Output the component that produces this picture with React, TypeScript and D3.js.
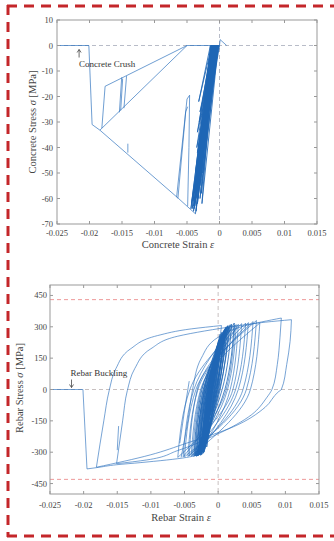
import React from "react";
import * as d3 from "d3";

type Pt = [number, number];

// ---------- ticks ----------
const strainTicks = [-0.025, -0.02, -0.015, -0.01, -0.005, 0, 0.005, 0.01, 0.015];
const strainTickLabels = ["-0.025", "-0.02", "-0.015", "-0.01", "-0.005", "0", "0.005", "0.01", "0.015"];
const concreteStressTicks = [10, 0, -10, -20, -30, -40, -50, -60, -70];
const rebarStressTicks = [450, 300, 150, 0, -150, -300, -450];
const rebarYieldLimits = [430, -430];

// ---------- concrete data (strain, stress MPa) ----------
const concreteBundle: Pt[] = [
  [0.0, 0], [-0.0026, -40], [-0.0004, 0], [-0.003, -26], [-0.001, 0], [-0.0033, -45], [-0.0006, 0],
  [-0.0036, -55], [-0.0008, 0], [-0.0028, -58], [-0.0003, 0], [-0.0034, -34], [-0.0012, 0],
  [-0.0038, -60], [-0.0007, 0], [-0.0031, -50], [-0.0005, 0], [-0.004, -63], [-0.0009, 0],
  [-0.0027, -62], [-0.0002, 0], [-0.0035, -40], [-0.0011, 0], [-0.0042, -64], [-0.001, 0],
  [-0.0033, -60], [-0.0006, 0], [-0.0037, -50], [-0.0013, 0], [-0.0029, -45], [-0.0004, 0],
  [-0.0044, -64], [-0.0012, 0], [-0.0032, -22], [-0.0014, 0], [-0.0036, -65], [-0.0008, 0],
  [-0.0025, -35], [-0.0001, 0], [-0.0039, -58], [-0.001, 0], [-0.003, -55], [-0.0005, 0],
  [-0.0034, -62], [-0.0007, 0], [-0.0029, -52], [-0.0003, 0], [-0.0041, -61], [-0.0011, 0],
  [-0.0032, -48], [-0.0006, 0], [-0.0038, -63], [-0.0009, 0], [-0.0027, -38], [-0.0002, 0],
  [-0.0035, -58], [-0.0012, 0], [-0.0031, -30], [-0.0008, 0], [-0.0043, -62], [-0.0013, 0],
  [-0.0028, -47], [-0.0004, 0], [-0.0036, -60], [-0.0005, 0], [-0.0033, -53], [-0.001, 0],
  [-0.0039, -64], [-0.0006, 0], [-0.0026, -50], [-0.0002, 0], [-0.0034, -42], [-0.0009, 0],
  [-0.0040, -65], [-0.0011, 0], [-0.0030, -60], [-0.0003, 0], [-0.0037, -57], [-0.0007, 0],
  [-0.0037, -66],
];
const concreteEnvelope: Pt[] = [[-0.0037, -66], [-0.0063, -60], [-0.0184, -33.2], [-0.0196, -31], [-0.0201, 0], [-0.025, 0]];
const concreteSmallLoopA: Pt[] = [[-0.0066, -59.5], [-0.005, -21], [-0.0046, -19.5], [-0.0047, -40], [-0.0049, -63]];
const concreteSmallLoopB: Pt[] = [[-0.0064, -60], [-0.0052, -26], [-0.0049, -24]];
const concreteUnload: Pt[] = [[-0.0184, -33.2], [-0.005, 0], [0.0, 0], [0.0001, 2.3], [0.0011, 0]];
const concreteUpper: Pt[] = [[-0.005, 0], [-0.0176, -16], [-0.0181, -32.4]];
const concreteDrop1: Pt[] = [[-0.01505, -12.5], [-0.0154, -26.2]];
const concreteDrop2: Pt[] = [[-0.0149, -13], [-0.0152, -25.5]];
const concreteDrop3: Pt[] = [[-0.0143, -12], [-0.0147, -24.6]];
const concreteTick: Pt[] = [[-0.0141, -38.5], [-0.0141, -42]];
const concreteCrushAt: Pt = [-0.0216, 0];

// ---------- rebar data (strain, stress MPa), branches listed low -> high stress ----------
const rebarBuckle: Pt[] = [[-0.025, 0], [-0.0201, 0], [-0.0195, -380]];
const rebarFinalDown: Pt[] = [
  [-0.0195, -380], [-0.0181, -374], [-0.0151, -360], [-0.0116, -350], [-0.0047, -325],
  [-0.0025, -305], [-0.0014, -200], [-0.0006, 0], [0.0005, 306],
];
const rebarUpA: Pt[] = [
  [-0.0181, -372], [-0.017, -150], [-0.0162, -5], [-0.0152, 100], [-0.013, 195],
  [-0.009, 258], [-0.004, 290], [0.0005, 306],
];
const rebarUpB: Pt[] = [
  [-0.0151, -355], [-0.0142, -150], [-0.0135, -5], [-0.0124, 100], [-0.01, 195],
  [-0.006, 255], [-0.002, 280], [0.003, 305], [0.007, 322], [0.0109, 334],
];
const rebarUpC: Pt[] = [
  [-0.0055, -325], [-0.0045, -150], [-0.0038, 0], [-0.0025, 150], [0.0, 250], [0.004, 305], [0.0094, 342],
];
const rebarDownA: Pt[] = [
  [-0.0151, -355], [-0.0106, -337], [-0.006, -292], [-0.0002, -215], [0.005, -120],
  [0.0072, -40], [0.008, 0], [0.0088, 120], [0.0092, 250], [0.0094, 342],
];
const rebarDownB: Pt[] = [
  [-0.0181, -372], [-0.0101, -313], [-0.0047, -257], [0.0023, -178], [0.007, -85],
  [0.009, -10], [0.0094, 0], [0.0102, 120], [0.0107, 230], [0.0109, 334],
];
// [bottom strain, bottom stress, up zero-crossing, top strain, top stress, down zero-crossing]
const rebarMediumLoops: number[][] = [
  [-0.005, -322, -0.0033, 0.0057, 330, 0.0042],
  [-0.0045, -320, -0.003, 0.0052, 325, 0.0037],
  [-0.004, -318, -0.0026, 0.0062, 318, 0.0048],
  [-0.0035, -315, -0.0022, 0.0045, 320, 0.003],
  [-0.006, -325, -0.0042, 0.0035, 315, 0.0022],
  [-0.003, -315, -0.0018, 0.003, 312, 0.0018],
  [-0.0052, -322, -0.0036, 0.0025, 310, 0.0012],
  [-0.0043, -318, -0.0031, 0.0041, 318, 0.0026],
  [-0.0038, -316, -0.0025, 0.0027, 310, 0.0014],
];
const rebarInnerLoops: number[][] = [
  [-0.003, -318, -0.0016, 0.0012, 300, -0.0004],
  [-0.0027, -312, -0.0014, 0.001, 290, -0.0003],
  [-0.0025, -305, -0.0013, 0.0008, 280, -0.0005],
  [-0.0023, -300, -0.0012, 0.0006, 270, -0.0006],
  [-0.0022, -295, -0.0013, 0.0004, 250, -0.0008],
  [-0.0028, -310, -0.0017, 0.0002, 240, -0.001],
  [-0.002, -285, -0.0011, 0.0009, 275, -0.0002],
  [-0.0026, -315, -0.0015, 0.0015, 305, 0.0],
  [-0.0032, -320, -0.0019, 0.0018, 310, 0.0002],
  [-0.0024, -290, -0.0016, -0.0002, 200, -0.0011],
  [-0.0018, -260, -0.001, 0.0003, 220, -0.0005],
  [-0.0021, -300, -0.0009, 0.0011, 285, 0.0001],
  [-0.0029, -305, -0.002, 0.0005, 260, -0.0009],
  [-0.0034, -318, -0.0022, 0.002, 312, 0.0006],
  [-0.0019, -270, -0.0012, 0.0, 180, -0.0008],
  [-0.0016, -240, -0.0008, 0.0007, 230, -0.0001],
  [-0.0027, -300, -0.0018, -0.0004, 150, -0.0013],
  [-0.0036, -320, -0.0024, 0.0024, 318, 0.001],
  [-0.0025, -312, -0.0015, 0.0003, 265, -0.0007],
  [-0.0022, -305, -0.0011, 0.0013, 295, -0.0002],
  [-0.0029, -315, -0.0018, 0.0009, 285, -0.0006],
  [-0.0021, -290, -0.0014, -0.0001, 210, -0.0009],
  [-0.0026, -308, -0.0012, 0.0016, 300, 0.0003],
  [-0.0031, -318, -0.0021, 0.0006, 275, -0.0008],
  [-0.0017, -275, -0.0009, 0.0005, 245, -0.0004],
  [-0.0024, -310, -0.0014, 0.0001, 235, -0.001],
  [-0.0033, -318, -0.002, 0.0014, 305, -0.0001],
  [-0.0023, -295, -0.0015, 0.0, 215, -0.0009],
  [-0.002, -280, -0.0013, -0.0003, 170, -0.001],
  [-0.0028, -312, -0.0016, 0.0011, 295, -0.0003],
];
const rebarSpike: Pt[] = [[-0.0057, -257], [-0.005, -100], [-0.0043, 40]];
const rebarSegment: Pt[] = [[-0.015, -290], [-0.0148, -175]];
const rebarBucklingAt: Pt = [-0.0218, 0];

const BLUE = "#2a6fbd";
const SERIF = "'Liberation Serif', 'Times New Roman', serif";
const TXT = "#444";

function loopBranches(l: number[]): Pt[][] {
  const [xb, yb, xu, xt, yt, xd] = l;
  return [
    [[xb, yb], [xu, 0], [xt, yt]],
    [[xb, yb], [xd, 0], [xt, yt]],
  ];
}

function Frame({ x, y, left, right, top, bottom, yTicks }: any) {
  return (
    <g>
      <rect x={left} y={top} width={right - left} height={bottom - top} fill="none" stroke="#999" strokeWidth={1} />
      {strainTicks.map((t, i) => (
        <g key={"xt" + i}>
          <line x1={x(t)} x2={x(t)} y1={bottom} y2={bottom - 3} stroke="#999" />
          <line x1={x(t)} x2={x(t)} y1={top} y2={top + 3} stroke="#999" />
        </g>
      ))}
      {yTicks.map((t: number, i: number) => (
        <g key={"yt" + i}>
          <line x1={left} x2={left + 3} y1={y(t)} y2={y(t)} stroke="#999" />
          <line x1={right} x2={right - 3} y1={y(t)} y2={y(t)} stroke="#999" />
        </g>
      ))}
    </g>
  );
}

export default function App() {
  const c = { left: 57, right: 317, top: 20, bottom: 224 };
  const cx = d3.scaleLinear().domain([-0.025, 0.015]).range([c.left, c.right]);
  const cy = d3.scaleLinear().domain([-70, 10]).range([c.bottom, c.top]);
  const cLine = d3.line<Pt>().x((d) => cx(d[0])).y((d) => cy(d[1]));

  const r = { left: 50, right: 319, top: 285, bottom: 494 };
  const rx = d3.scaleLinear().domain([-0.025, 0.015]).range([r.left, r.right]);
  const ry = d3.scaleLinear().domain([-500, 500]).range([r.bottom, r.top]);
  const rLine = d3.line<Pt>().x((d) => rx(d[0])).y((d) => ry(d[1])).curve(d3.curveMonotoneY);
  const rLin = d3.line<Pt>().x((d) => rx(d[0])).y((d) => ry(d[1]));

  const concreteSeries = [
    concreteEnvelope, concreteSmallLoopA, concreteSmallLoopB, concreteUnload,
    concreteUpper, concreteDrop1, concreteDrop2, concreteDrop3, concreteTick,
  ];
  const rebarOuter: Pt[][] = [
    rebarFinalDown, rebarUpA, rebarUpB, rebarUpC, rebarDownA, rebarDownB,
    ...rebarMediumLoops.flatMap(loopBranches),
    rebarSpike, rebarSegment,
  ];
  const rebarInner: Pt[][] = rebarInnerLoops.flatMap(loopBranches);

  return (
    <div style={{ position: "absolute", left: 0, top: 0 }}>
      <svg width={334} height={541} style={{ display: "block", background: "#fff" }}>
        <g stroke="#c4262a" strokeWidth={3} strokeDasharray="10 7" fill="none">
          <line x1={7} y1={6} x2={334} y2={6} />
          <line x1={8} y1={5} x2={8} y2={537} />
          <line x1={7} y1={536} x2={334} y2={536} />
        </g>

        {/* ===== Concrete plot ===== */}
        <clipPath id="cclip">
          <rect x={c.left} y={c.top} width={c.right - c.left} height={c.bottom - c.top} />
        </clipPath>
        <line x1={c.left} x2={c.right} y1={cy(0)} y2={cy(0)} stroke="#b8bcc8" strokeDasharray="4 3" />
        <line x1={cx(0)} x2={cx(0)} y1={c.top} y2={c.bottom} stroke="#b8bcc8" strokeDasharray="4 3" />
        <g clipPath="url(#cclip)" fill="none" stroke={BLUE} strokeOpacity={0.85}>
          {concreteSeries.map((s, i) => (
            <path key={i} d={cLine(s) || ""} strokeWidth={0.8} />
          ))}
          <path d={cLine(concreteBundle) || ""} strokeWidth={1} stroke="#1f66b5" />
        </g>
        <Frame x={cx} y={cy} {...c} yTicks={concreteStressTicks} />
        {concreteStressTicks.map((t, i) => (
          <text key={i} x={c.left - 4} y={cy(t) + 3} textAnchor="end" fontSize={8.5} fontFamily={SERIF} fill={TXT}>
            {t}
          </text>
        ))}
        {strainTicks.map((t, i) => (
          <text key={i} x={cx(t)} y={235.5} textAnchor="middle" fontSize={8.5} fontFamily={SERIF} fill={TXT}>
            {strainTickLabels[i]}
          </text>
        ))}
        <text x={178} y={248} textAnchor="middle" fontSize={10.5} fontFamily={SERIF} fill={TXT}>
          Concrete Strain <tspan fontStyle="italic">ε</tspan>
        </text>
        <text transform="translate(36,122) rotate(-90)" textAnchor="middle" fontSize={10.5} fontFamily={SERIF} fill={TXT}>
          Concrete Stress <tspan fontStyle="italic">σ</tspan> [MPa]
        </text>
        <g stroke="#444" strokeWidth={0.8} fill="none">
          <line x1={cx(concreteCrushAt[0])} x2={cx(concreteCrushAt[0])} y1={cy(concreteCrushAt[1]) + 4} y2={cy(concreteCrushAt[1]) + 12} />
          <path d={`M${cx(concreteCrushAt[0]) - 2},${cy(concreteCrushAt[1]) + 7} L${cx(concreteCrushAt[0])},${cy(concreteCrushAt[1]) + 4} L${cx(concreteCrushAt[0]) + 2},${cy(concreteCrushAt[1]) + 7}`} />
        </g>
        <text x={cx(concreteCrushAt[0])} y={cy(concreteCrushAt[1]) + 21} fontSize={9} fontFamily={SERIF} fill="#333">
          Concrete Crush
        </text>

        {/* ===== Rebar plot ===== */}
        <clipPath id="rclip">
          <rect x={r.left} y={r.top} width={r.right - r.left} height={r.bottom - r.top} />
        </clipPath>
        <line x1={r.left} x2={r.right} y1={ry(0)} y2={ry(0)} stroke="#c8c0c0" strokeDasharray="4 3" />
        <line x1={rx(0)} x2={rx(0)} y1={r.top} y2={r.bottom} stroke="#c8c0c0" strokeDasharray="4 3" />
        {rebarYieldLimits.map((v, i) => (
          <line key={i} x1={r.left} x2={r.right} y1={ry(v)} y2={ry(v)} stroke="#ee9a9a" strokeDasharray="4 3" />
        ))}
        <g clipPath="url(#rclip)" fill="none" stroke={BLUE} strokeOpacity={0.8}>
          <path d={rLin(rebarBuckle) || ""} strokeWidth={0.8} />
          {rebarOuter.map((s, i) => (
            <path key={i} d={rLine(s) || ""} strokeWidth={0.8} />
          ))}
          {rebarInner.map((s, i) => (
            <path key={"in" + i} d={rLine(s) || ""} strokeWidth={1} stroke="#1f66b5" />
          ))}
        </g>
        <Frame x={rx} y={ry} {...r} yTicks={rebarStressTicks} />
        {rebarStressTicks.map((t, i) => (
          <text key={i} x={r.left - 3} y={ry(t) + 3} textAnchor="end" fontSize={8.5} fontFamily={SERIF} fill={TXT}>
            {t}
          </text>
        ))}
        {strainTicks.map((t, i) => (
          <text key={i} x={rx(t)} y={508} textAnchor="middle" fontSize={8.5} fontFamily={SERIF} fill={TXT}>
            {strainTickLabels[i]}
          </text>
        ))}
        <text x={181} y={521} textAnchor="middle" fontSize={10.5} fontFamily={SERIF} fill={TXT}>
          Rebar Strain <tspan fontStyle="italic">ε</tspan>
        </text>
        <text transform="translate(23,388) rotate(-90)" textAnchor="middle" fontSize={10.5} fontFamily={SERIF} fill={TXT}>
          Rebar Stress <tspan fontStyle="italic">σ</tspan> [MPa]
        </text>
        <g stroke="#444" strokeWidth={0.8} fill="none">
          <line x1={rx(rebarBucklingAt[0])} x2={rx(rebarBucklingAt[0])} y1={ry(rebarBucklingAt[1]) - 10} y2={ry(rebarBucklingAt[1]) - 2} />
          <path d={`M${rx(rebarBucklingAt[0]) - 2},${ry(rebarBucklingAt[1]) - 5} L${rx(rebarBucklingAt[0])},${ry(rebarBucklingAt[1]) - 2} L${rx(rebarBucklingAt[0]) + 2},${ry(rebarBucklingAt[1]) - 5}`} />
        </g>
        <text x={rx(rebarBucklingAt[0]) - 1} y={ry(rebarBucklingAt[1]) - 14} fontSize={9} fontFamily={SERIF} fill="#333">
          Rebar Buckling
        </text>
      </svg>
    </div>
  );
}
